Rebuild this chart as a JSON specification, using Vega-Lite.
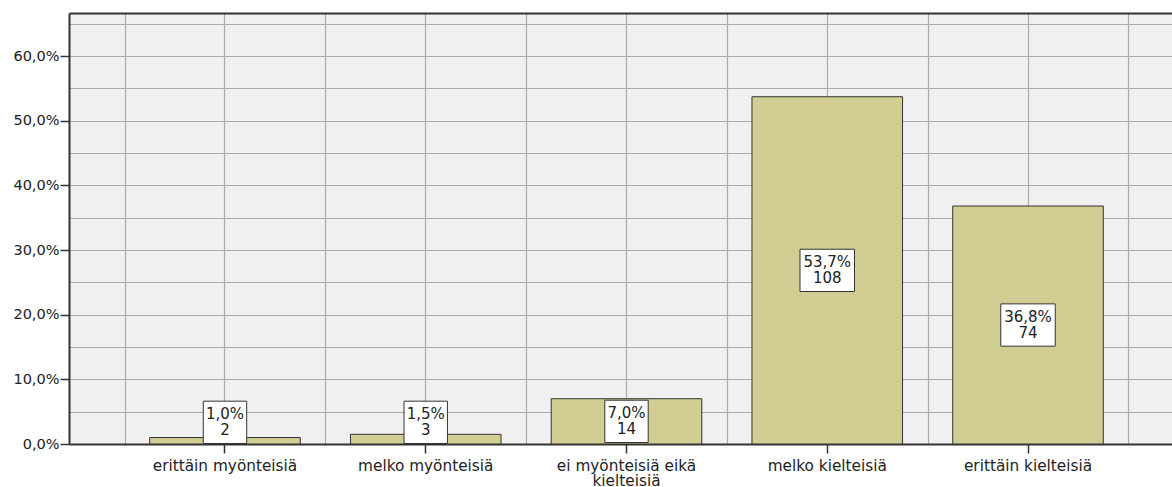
{
  "$schema": "https://vega.github.io/schema/vega-lite/v6.json",
  "width": 1103,
  "height": 431,
  "autosize": {"type": "none"},
  "padding": {"left": 69, "top": 13, "right": 0, "bottom": 43},
  "background": "#ffffff",
  "config": {
    "view": {"stroke": null, "fill": "#f0f0f0"},
    "axis": {"labelFont": "DejaVu Sans", "labelColor": "#222222", "gridColor": "#ababab", "gridWidth": 1.2, "gridOpacity": 1}
  },
  "data": {
    "values": [
      {"category": "erittäin myönteisiä", "pct": 0.010, "count": 2},
      {"category": "melko myönteisiä", "pct": 0.015, "count": 3},
      {"category": "ei myönteisiä eikä kielteisiä", "pct": 0.070, "count": 14},
      {"category": "melko kielteisiä", "pct": 0.537, "count": 108},
      {"category": "erittäin kielteisiä", "pct": 0.368, "count": 74}
    ]
  },
  "transform": [
    {"calculate": "max(datum.pct / 2, 0.0335)", "as": "ymid"},
    {"calculate": "replace(format(datum.pct, '.1%'), '.', ',')", "as": "pctLabel"}
  ],
  "resolve": {"axis": {"x": "independent", "y": "independent"}},
  "layer": [
    {
      "mark": {"type": "bar", "fill": "#d2cd92", "stroke": "#333333", "strokeWidth": 1, "width": {"band": 0.75}},
      "encoding": {
        "x": {
          "field": "category", "type": "nominal", "sort": null,
          "scale": {"type": "band", "range": [0, 1115], "paddingInner": 0, "paddingOuter": 0.277},
          "axis": {
            "orient": "bottom", "title": null, "labelAngle": 0, "grid": true, "tickBand": "center",
            "domain": true, "domainColor": "#333333", "domainWidth": 2,
            "ticks": true, "tickSize": 9, "tickColor": "#333333", "tickWidth": 1.5,
            "labelFontSize": 15.3, "labelPadding": 5, "labelLineHeight": 15, "labelOverlap": false, "labelLimit": 400,
            "labelExpr": "datum.label == 'ei myönteisiä eikä kielteisiä' ? ['ei myönteisiä eikä', 'kielteisiä'] : datum.label"
          }
        },
        "y": {
          "field": "pct", "type": "quantitative",
          "scale": {"domain": [0, 0.6665], "nice": false, "zero": true},
          "axis": {
            "orient": "left", "title": null,
            "values": [0, 0.05, 0.1, 0.15, 0.2, 0.25, 0.3, 0.35, 0.4, 0.45, 0.5, 0.55, 0.6, 0.65],
            "grid": true,
            "domain": true, "domainColor": "#333333", "domainWidth": 2,
            "ticks": true, "tickSize": 9, "tickWidth": 1.5,
            "tickColor": {"condition": {"test": "round(datum.value * 100) % 10 == 0", "value": "#333333"}, "value": "transparent"},
            "labelFontSize": 14.5, "labelPadding": 1,
            "labelExpr": "round(datum.value * 100) % 10 == 0 ? replace(format(datum.value, '.1%'), '.', ',') : ''"
          }
        }
      }
    },
    {
      "mark": {"type": "point", "filled": true, "fill": "#ffffff", "stroke": "#333333", "strokeWidth": 1, "opacity": 1},
      "encoding": {
        "x": {
          "field": "category", "type": "nominal", "sort": null,
          "axis": {
            "orient": "top", "title": null, "grid": true, "tickBand": "extent", "labels": false, "ticks": false,
            "domain": true, "domainColor": "#333333", "domainWidth": 2
          }
        },
        "y": {"field": "ymid", "type": "quantitative", "axis": null},
        "shape": {
          "condition": {"test": "datum.pct >= 0.1", "value": "M-1,-0.776L1,-0.776L1,0.776L-1,0.776Z"},
          "value": "M-1,-0.975L1,-0.975L1,0.975L-1,0.975Z"
        },
        "size": {
          "condition": {"test": "datum.pct >= 0.1", "value": 2970},
          "value": 1884
        }
      }
    },
    {
      "mark": {"type": "text", "font": "DejaVu Sans", "fontSize": 15, "color": "#222222", "align": "center", "baseline": "middle", "dy": -8},
      "encoding": {
        "x": {"field": "category", "type": "nominal", "sort": null, "axis": null},
        "y": {"field": "ymid", "type": "quantitative", "axis": null},
        "text": {"field": "pctLabel", "type": "nominal"}
      }
    },
    {
      "mark": {"type": "text", "font": "DejaVu Sans", "fontSize": 15, "color": "#222222", "align": "center", "baseline": "middle", "dy": 8},
      "encoding": {
        "x": {"field": "category", "type": "nominal", "sort": null, "axis": null},
        "y": {"field": "ymid", "type": "quantitative", "axis": null},
        "text": {"field": "count", "type": "nominal"}
      }
    }
  ]
}
